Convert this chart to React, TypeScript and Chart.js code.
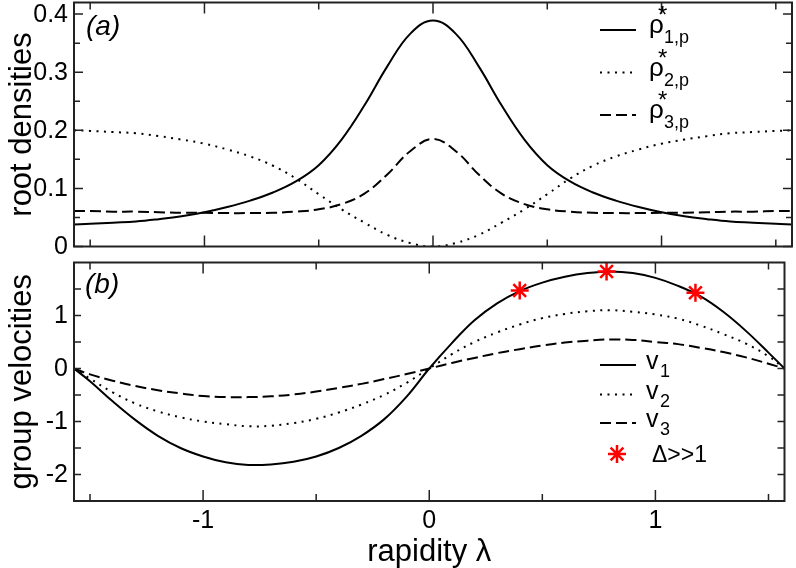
import React, { useEffect, useRef } from "react";
import { Chart, registerables } from "chart.js";

Chart.register(...registerables);

const FONT = "'Liberation Sans', Arial, sans-serif";
const HALF_PI = Math.PI / 2;

// rapidity grid
const lambda = [
  -1.5708, -1.5, -1.4, -1.3, -1.2, -1.1, -1.0, -0.9, -0.8, -0.7, -0.6, -0.5, -0.4, -0.3, -0.2, -0.1, 0,
  0.1, 0.2, 0.3, 0.4, 0.5, 0.6, 0.7, 0.8, 0.9, 1.0, 1.1, 1.2, 1.3, 1.4, 1.5, 1.5708,
];

// (a) root densities
const rho1 = [
  0.038, 0.039, 0.041, 0.043, 0.047, 0.052, 0.059, 0.068, 0.079, 0.093, 0.112, 0.140, 0.184, 0.243, 0.310, 0.366, 0.389,
  0.366, 0.310, 0.243, 0.184, 0.140, 0.112, 0.093, 0.079, 0.068, 0.059, 0.052, 0.047, 0.043, 0.041, 0.039, 0.038,
];
const rho2 = [
  0.200, 0.199, 0.197, 0.195, 0.190, 0.184, 0.177, 0.167, 0.155, 0.139, 0.117, 0.090, 0.064, 0.041, 0.020, 0.006, 0.000,
  0.006, 0.020, 0.041, 0.064, 0.090, 0.117, 0.139, 0.155, 0.167, 0.177, 0.184, 0.190, 0.195, 0.197, 0.199, 0.200,
];
const rho3 = [
  0.061, 0.061, 0.060, 0.060, 0.059, 0.058, 0.058, 0.0575, 0.0575, 0.058, 0.060, 0.064, 0.073, 0.091, 0.124, 0.164, 0.185,
  0.164, 0.124, 0.091, 0.073, 0.064, 0.060, 0.058, 0.0575, 0.0575, 0.058, 0.058, 0.059, 0.060, 0.060, 0.061, 0.061,
];

// (b) group velocities
const v1 = [
  0, -0.24, -0.62, -0.97, -1.27, -1.50, -1.66, -1.77, -1.82, -1.81, -1.76, -1.66, -1.50, -1.27, -0.96, -0.53, 0,
  0.48, 0.91, 1.23, 1.46, 1.62, 1.73, 1.80, 1.83, 1.80, 1.71, 1.56, 1.36, 1.07, 0.71, 0.30, 0,
];
const v2 = [
  0, -0.19, -0.45, -0.66, -0.81, -0.92, -1.00, -1.05, -1.09, -1.08, -1.03, -0.95, -0.83, -0.68, -0.50, -0.27, 0,
  0.27, 0.50, 0.68, 0.83, 0.95, 1.03, 1.08, 1.10, 1.07, 1.02, 0.94, 0.81, 0.65, 0.47, 0.23, 0,
];
const v3 = [
  0, -0.11, -0.23, -0.33, -0.41, -0.47, -0.52, -0.54, -0.54, -0.525, -0.49, -0.435, -0.365, -0.29, -0.20, -0.105, 0,
  0.105, 0.20, 0.29, 0.365, 0.435, 0.49, 0.525, 0.548, 0.54, 0.50, 0.46, 0.39, 0.31, 0.21, 0.09, 0,
];

// Delta >> 1 points
const starX = [0.40, 0.784, 1.177];
const starY = [1.47, 1.83, 1.43];

// ticks
const xMajor = [-1, 0, 1];
const xMinor = [-1.5, -0.5, 0.5, 1.5];
const topYMajor = [0, 0.1, 0.2, 0.3, 0.4];
const topYMinor = [0.05, 0.15, 0.25, 0.35];
const botYMajor = [-2, -1, 0, 1];
const botYMinor = [-1.5, -0.5, 0.5, 1.5];

const DOT = [2, 5.5];
const DASH = [11, 5];

const pts = (xs: number[], ys: number[]) => xs.map((x, i) => ({ x, y: ys[i] }));

const lineDs = (label: string, ys: number[], dash: number[]) => ({
  label,
  data: pts(lambda, ys),
  borderColor: "#000",
  borderWidth: 2,
  borderDash: dash,
  pointRadius: 0,
  fill: false,
  tension: 0.4,
  order: 1,
});

function framePlugin(yMajor: number[], yMinor: number[], yMajLen: number, yMinLen: number) {
  return {
    id: "frame",
    afterDatasetsDraw(chart: any) {
      const { ctx, chartArea } = chart;
      const { left, right, top, bottom } = chartArea;
      const xs = chart.scales.x;
      const ys = chart.scales.y;
      ctx.save();
      ctx.strokeStyle = "#222";
      ctx.lineWidth = 1.5;
      ctx.setLineDash([]);
      ctx.beginPath();
      const xt = (vals: number[], len: number) => {
        vals.forEach((v) => {
          const p = xs.getPixelForValue(v);
          ctx.moveTo(p, bottom);
          ctx.lineTo(p, bottom - len);
          ctx.moveTo(p, top);
          ctx.lineTo(p, top + len);
        });
      };
      const yt = (vals: number[], len: number) => {
        vals.forEach((v) => {
          const p = ys.getPixelForValue(v);
          ctx.moveTo(left, p);
          ctx.lineTo(left + len, p);
          ctx.moveTo(right, p);
          ctx.lineTo(right - len, p);
        });
      };
      xt(xMajor, 11);
      xt(xMinor, 7);
      yt(yMajor, yMajLen);
      yt(yMinor, yMinLen);
      ctx.stroke();
      ctx.lineWidth = 2;
      ctx.strokeRect(left, top, right - left, bottom - top);
      ctx.restore();
    },
  };
}

function drawSample(ctx: CanvasRenderingContext2D, y: number, dash: number[]) {
  ctx.save();
  ctx.strokeStyle = "#000";
  ctx.lineWidth = 2;
  ctx.setLineDash(dash);
  ctx.beginPath();
  ctx.moveTo(600, y);
  ctx.lineTo(636, y);
  ctx.stroke();
  ctx.restore();
}

const topLegendPlugin = {
  id: "topLegend",
  afterDraw(chart: any) {
    const ctx: CanvasRenderingContext2D = chart.ctx;
    const rows = [
      { sub: "1,p", dash: [] as number[] },
      { sub: "2,p", dash: DOT },
      { sub: "3,p", dash: DASH },
    ];
    ctx.save();
    ctx.fillStyle = "#000";
    ctx.textBaseline = "alphabetic";
    rows.forEach((r, i) => {
      const ly = 30 + i * 42.5;
      drawSample(ctx, ly, r.dash);
      ctx.font = `26px ${FONT}`;
      ctx.fillText("ρ", 649, ly + 3);
      ctx.font = `24px ${FONT}`;
      ctx.fillText("*", 658, ly - 7);
      ctx.font = `18px ${FONT}`;
      ctx.fillText(r.sub, 664, ly + 13);
    });
    ctx.font = `italic 28px ${FONT}`;
    ctx.fillText("(a)", 86, 35);
    ctx.restore();
  },
};

const BOT_TOP = 251;

const botLegendPlugin = {
  id: "botLegend",
  afterDraw(chart: any) {
    const ctx: CanvasRenderingContext2D = chart.ctx;
    const rows = [
      { sub: "1", dash: [] as number[], y: 365 },
      { sub: "2", dash: DOT, y: 394.5 },
      { sub: "3", dash: DASH, y: 423 },
    ];
    ctx.save();
    ctx.fillStyle = "#000";
    rows.forEach((r) => {
      const ly = r.y - BOT_TOP;
      drawSample(ctx, ly, r.dash);
      ctx.font = `25px ${FONT}`;
      ctx.fillText("v", 646, ly + 4);
      ctx.font = `18px ${FONT}`;
      ctx.fillText(r.sub, 660, ly + 12);
    });
    // star entry
    const sx = 617;
    const sy = 454 - BOT_TOP;
    const r = 9;
    ctx.strokeStyle = "#ff0000";
    ctx.lineWidth = 2.5;
    ctx.beginPath();
    for (let k = 0; k < 4; k++) {
      const a = (k * Math.PI) / 4;
      ctx.moveTo(sx - r * Math.cos(a), sy - r * Math.sin(a));
      ctx.lineTo(sx + r * Math.cos(a), sy + r * Math.sin(a));
    }
    ctx.stroke();
    ctx.font = `23px ${FONT}`;
    ctx.fillText("Δ>>1", 652, sy + 8);
    ctx.font = `italic 28px ${FONT}`;
    ctx.fillText("(b)", 85, 293 - BOT_TOP);
    ctx.restore();
  },
};

const tickFont = { family: FONT, size: 25 };
const titleFont = { family: FONT, size: 31 };

const noPadY = (w: number) => (s: any) => {
  s.width = w;
  s.paddingTop = 0;
  s.paddingBottom = 0;
};

export default function App() {
  const topRef = useRef<HTMLCanvasElement | null>(null);
  const botRef = useRef<HTMLCanvasElement | null>(null);

  useEffect(() => {
    if (!topRef.current || !botRef.current) return;
    const top = new Chart(topRef.current, {
      type: "line",
      data: {
        datasets: [
          lineDs("rho1", rho1, []),
          lineDs("rho2", rho2, DOT),
          lineDs("rho3", rho3, DASH),
        ],
      },
      options: {
        animation: false,
        responsive: false,
        maintainAspectRatio: false,
        layout: { padding: { left: 0, right: 4, top: 2.5, bottom: 15.5 } },
        plugins: { legend: { display: false }, tooltip: { enabled: false } },
        scales: {
          x: { type: "linear", min: -HALF_PI, max: HALF_PI, display: false },
          y: {
            type: "linear",
            min: 0,
            max: 0.42,
            afterFit: noPadY(74),
            afterBuildTicks: (s: any) => {
              s.ticks = topYMajor.map((v) => ({ value: v }));
            },
            grid: { display: false, drawTicks: false },
            border: { display: false },
            ticks: {
              padding: 6,
              labelOffset: 1,
              color: "#000",
              font: tickFont,
              callback: (v: any) => String(v),
            },
            title: {
              display: true,
              text: "root densities",
              color: "#000",
              font: titleFont,
              padding: { top: 3.7, bottom: 0 },
            },
          },
        },
      } as any,
      plugins: [framePlugin(topYMajor, topYMinor, 9, 6), topLegendPlugin],
    });

    const bot = new Chart(botRef.current, {
      type: "line",
      data: {
        datasets: [
          {
            label: "Δ>>1",
            data: pts(starX, starY),
            showLine: false,
            pointStyle: "star",
            pointRadius: 9,
            pointBorderWidth: 2.5,
            pointBorderColor: "#ff0000",
            pointBackgroundColor: "#ff0000",
            borderColor: "#ff0000",
            order: -1,
          },
          lineDs("v1", v1, []),
          lineDs("v2", v2, DOT),
          lineDs("v3", v3, DASH),
        ],
      },
      options: {
        animation: false,
        responsive: false,
        maintainAspectRatio: false,
        layout: { padding: { left: 0, right: 4, top: 6, bottom: 0 } },
        plugins: { legend: { display: false }, tooltip: { enabled: false } },
        scales: {
          x: {
            type: "linear",
            min: -HALF_PI,
            max: HALF_PI,
            afterFit: (s: any) => {
              s.height = 67;
              s.paddingLeft = 0;
              s.paddingRight = 0;
            },
            afterBuildTicks: (s: any) => {
              s.ticks = xMajor.map((v) => ({ value: v }));
            },
            grid: { display: false, drawTicks: false },
            border: { display: false },
            ticks: {
              padding: 5.5,
              color: "#000",
              font: tickFont,
              maxRotation: 0,
              autoSkip: false,
              callback: (v: any) => String(v),
            },
            title: {
              display: true,
              text: "rapidity λ",
              color: "#000",
              font: { ...titleFont, lineHeight: 1.0 },
              padding: { top: 0, bottom: 0.2 },
            },
          },
          y: {
            type: "linear",
            min: -2.5,
            max: 2,
            afterFit: noPadY(74),
            afterBuildTicks: (s: any) => {
              s.ticks = botYMajor.map((v) => ({ value: v }));
            },
            grid: { display: false, drawTicks: false },
            border: { display: false },
            ticks: {
              padding: 6,
              labelOffset: 1,
              color: "#000",
              font: tickFont,
              callback: (v: any) => String(v),
            },
            title: {
              display: true,
              text: "group velocities",
              color: "#000",
              font: titleFont,
              padding: { top: 3.7, bottom: 0 },
            },
          },
        },
      } as any,
      plugins: [framePlugin(botYMajor, botYMinor, 7, 7), botLegendPlugin],
    });

    return () => {
      top.destroy();
      bot.destroy();
    };
  }, []);

  return (
    <div
      style={{
        position: "fixed",
        left: 0,
        top: 0,
        width: 796,
        height: 568,
        background: "#fff",
        overflow: "hidden",
      }}
    >
      <canvas
        ref={topRef}
        width={796}
        height={262}
        style={{ position: "absolute", left: 0, top: 0, width: 796, height: 262, display: "block" }}
      />
      <canvas
        ref={botRef}
        width={796}
        height={317}
        style={{ position: "absolute", left: 0, top: BOT_TOP, width: 796, height: 317, display: "block" }}
      />
    </div>
  );
}
